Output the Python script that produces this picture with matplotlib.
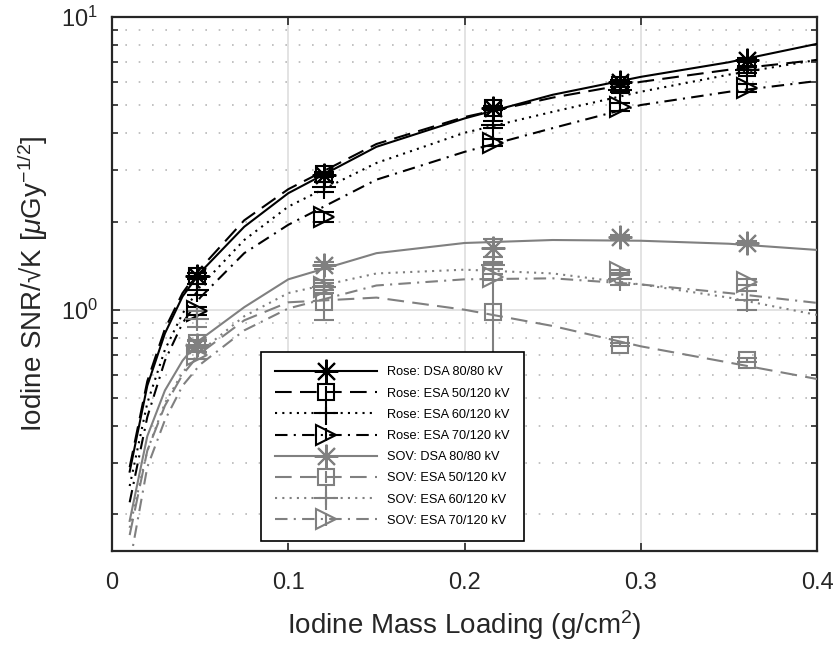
import numpy as np
import matplotlib
matplotlib.use('Agg')
import matplotlib.pyplot as plt
from matplotlib.legend_handler import HandlerTuple

plt.rcParams['font.family'] = ['Liberation Sans', 'DejaVu Sans']
plt.rcParams['mathtext.fontset'] = 'custom'
plt.rcParams['mathtext.rm'] = 'Liberation Sans'
plt.rcParams['mathtext.it'] = 'Liberation Sans:italic'

# fitted curves (sampled)
x_fit = [0.01, 0.02, 0.03, 0.04, 0.05, 0.075, 0.1, 0.15, 0.2, 0.25, 0.3, 0.35, 0.4]
rose_dsa_fit = [0.28, 0.55, 0.83, 1.11, 1.34, 1.92, 2.5, 3.6, 4.5, 5.42, 6.24, 7.0, 8.09]
rose_esa50_fit = [0.29, 0.57, 0.86, 1.14, 1.38, 2.02, 2.58, 3.68, 4.55, 5.3, 6.0, 6.6, 7.13]
rose_esa60_fit = [0.25, 0.48, 0.73, 0.97, 1.2, 1.73, 2.25, 3.17, 4.02, 4.74, 5.55, 6.35, 7.13]
rose_esa70_fit = [0.22, 0.43, 0.67, 0.9, 1.1, 1.56, 1.95, 2.78, 3.46, 4.17, 5.0, 5.55, 6.04]
sov_dsa_fit = [0.19, 0.37, 0.53, 0.67, 0.79, 1.02, 1.27, 1.56, 1.69, 1.73, 1.72, 1.68, 1.6]
sov_esa50_fit = [0.17, 0.33, 0.47, 0.6, 0.71, 0.92, 1.06, 1.1, 1.0, 0.88, 0.75, 0.66, 0.58]
sov_esa60_fit = [0.18, 0.33, 0.48, 0.61, 0.72, 0.95, 1.14, 1.33, 1.37, 1.33, 1.22, 1.1, 0.96]
sov_esa70_fit = [0.135, 0.29, 0.42, 0.55, 0.65, 0.85, 1.01, 1.21, 1.27, 1.28, 1.22, 1.14, 1.055]

# measured points
x_meas = [0.048, 0.12, 0.216, 0.288, 0.36]
rose_dsa = [1.3, 2.89, 4.89, 6.0, 7.13]
rose_esa50 = [1.3, 2.9, 4.9, 5.87, 6.7]
rose_esa60 = [1.17, 2.63, 4.28, 5.64, 6.6]
rose_esa70 = [0.99, 2.08, 3.72, 4.93, 5.72]
sov_dsa = [0.76, 1.42, 1.63, 1.77, 1.69]
sov_esa50 = [0.77, 1.065, 0.985, 0.76, 0.675]
sov_esa60 = [0.93, 1.2, 1.42, 1.27, 1.08]
sov_esa70 = [0.70, 1.2, 1.29, 1.34, 1.24]

rose_dsa_err = [0.03, 0.05, 0.08, 0.1, 0.12]
rose_esa50_err = [0.03, 0.06, 0.08, 0.1, 0.12]
rose_esa60_err = [0.05, 0.1, 0.12, 0.12, 0.15]
rose_esa70_err = [0.03, 0.08, 0.1, 0.15, 0.2]
sov_dsa_err = [0.02, 0.04, 0.12, 0.03, 0.03]
sov_esa50_err = [0.02, 0.14, 0.45, 0.01, 0.01]
sov_esa60_err = [0.06, 0.06, 0.04, 0.06, 0.08]
sov_esa70_err = [0.02, 0.03, 0.03, 0.03, 0.03]

labels = ['Rose: DSA 80/80 kV', 'Rose: ESA 50/120 kV', 'Rose: ESA 60/120 kV', 'Rose: ESA 70/120 kV',
          'SOV: DSA 80/80 kV', 'SOV: ESA 50/120 kV', 'SOV: ESA 60/120 kV', 'SOV: ESA 70/120 kV']

fits = [rose_dsa_fit, rose_esa50_fit, rose_esa60_fit, rose_esa70_fit,
        sov_dsa_fit, sov_esa50_fit, sov_esa60_fit, sov_esa70_fit]
meas = [rose_dsa, rose_esa50, rose_esa60, rose_esa70, sov_dsa, sov_esa50, sov_esa60, sov_esa70]
errs = [rose_dsa_err, rose_esa50_err, rose_esa60_err, rose_esa70_err,
        sov_dsa_err, sov_esa50_err, sov_esa60_err, sov_esa70_err]

gray = (0.5, 0.5, 0.5)
dash_styles = ['-', (0, (8, 4)), (0, (1, 2.5)), (0, (6, 3, 1, 3))]
markers = [(8, 2, 0), 's', '+', '>']
msizes = [17, 11, 17, 14]
dark = (0.15, 0.15, 0.15)

fig = plt.figure(figsize=(8.38, 6.49), dpi=100)
ax = fig.add_axes([0.1337, 0.151, 0.8413, 0.823])

handles = []
for i in range(8):
    c = 'k' if i < 4 else gray
    k = i % 4
    ln, = ax.plot(x_fit, fits[i], color=c, lw=1.5, linestyle=dash_styles[k], zorder=3)
    ax.errorbar(x_meas, meas[i], yerr=errs[i], fmt='none', ecolor=c, elinewidth=1.5,
                capsize=7, capthick=1.5, zorder=4)
    mk, = ax.plot(x_meas, meas[i], linestyle='none', marker=markers[k], ms=msizes[k],
                  mfc='none', mec=c, mew=1.5, zorder=5)
    proxy = ax.errorbar([np.nan], [np.nan], yerr=[np.nan], fmt='none', ecolor=c,
                        elinewidth=1.5, capsize=0)
    handles.append((ln, proxy, mk))

ax.set_yscale('log')
ax.set_xlim(0, 0.4)
ax.set_ylim(0.15, 10)
ax.set_xticks([0, 0.1, 0.2, 0.3, 0.4])
ax.set_xticklabels(['0', '0.1', '0.2', '0.3', '0.4'])

ax.grid(True, which='major', color=(0.87, 0.87, 0.87), lw=1.2, linestyle='-', zorder=0)
ax.grid(True, which='minor', axis='y', color=(0.72, 0.72, 0.72), lw=1.2, linestyle=(0, (1, 7)), zorder=0)
ax.set_axisbelow(True)

for s in ax.spines.values():
    s.set_linewidth(1.6)
    s.set_color(dark)
ax.tick_params(which='both', direction='in', top=True, right=True, labelsize=17,
               colors=dark, width=1.2)
ax.tick_params(which='major', length=6)
ax.tick_params(which='minor', length=4.5)
ax.tick_params(axis='x', pad=15)
ax.tick_params(axis='y', pad=10)

ax.set_xlabel('Iodine Mass Loading (g/cm$^2$)', fontsize=20, labelpad=10, color=dark)
ax.set_ylabel('Iodine SNR/\u221aK [$\\mu$Gy$^{-1/2}$]', fontsize=20, labelpad=8, color=dark)

leg = ax.legend(handles, labels, loc='lower left', bbox_to_anchor=(0.211, 0.019),
                borderaxespad=0, fontsize=9.2, handlelength=8.0, handletextpad=0.8,
                borderpad=1.1, labelspacing=0.72, numpoints=1, fancybox=False,
                framealpha=1, edgecolor='k', handler_map={tuple: HandlerTuple(ndivide=1)})
leg.get_frame().set_linewidth(1.2)
leg.set_zorder(10)

fig.savefig('out.png', dpi=100)
